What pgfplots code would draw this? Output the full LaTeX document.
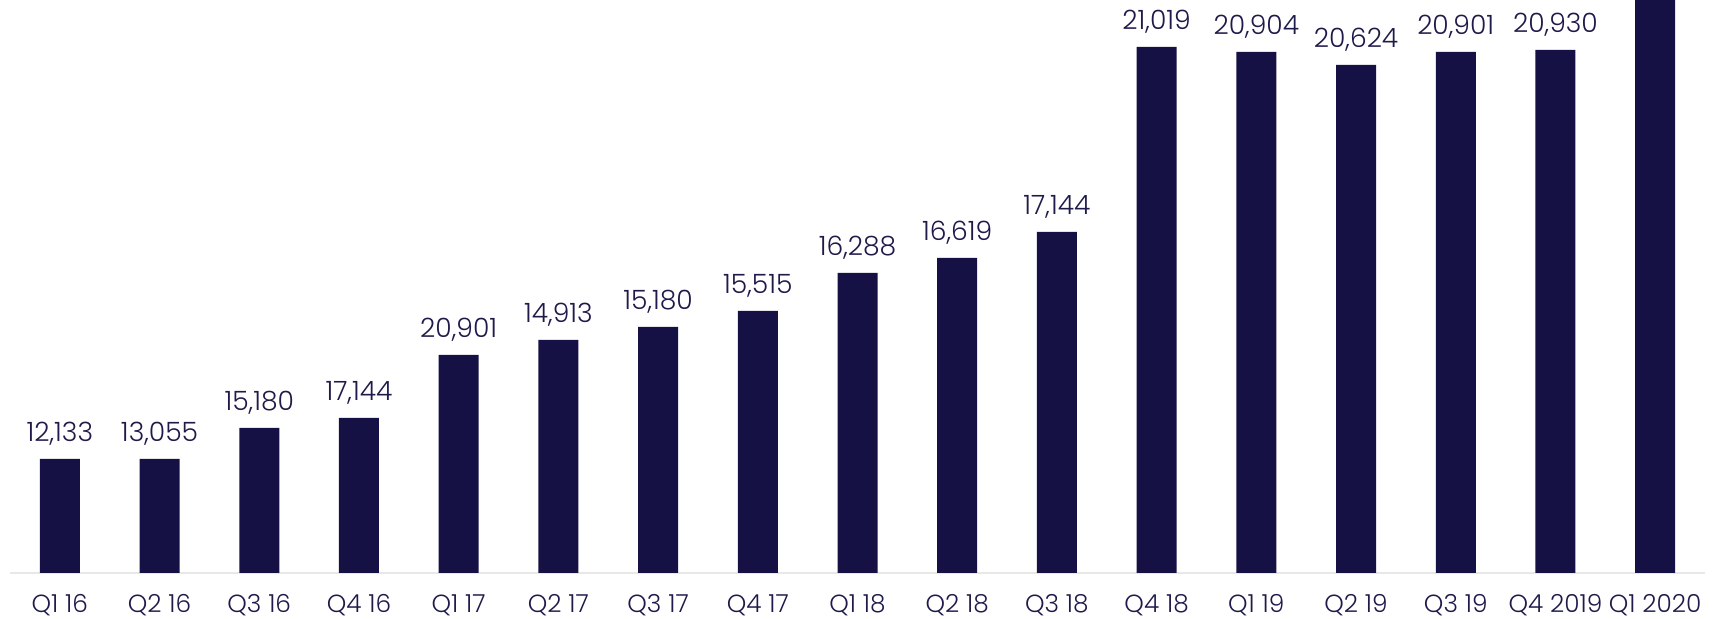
\documentclass[border=0pt]{standalone}
\usepackage{pgfplots}
\usepackage{pgfplotstable}
\pgfplotsset{compat=1.18}
\usepackage{fontspec}
\setmainfont{Poppins}[UprightFont=* Light]
\definecolor{barc}{HTML}{161145}
\definecolor{txtc}{HTML}{1E1B4B}
\pgfplotstableread{
x h lab
0 114 12,133
1 114 13,055
2 145 15,180
3 155 17,144
4 218 20,901
5 233 14,913
6 246 15,180
7 262 15,515
8 300 16,288
9 315 16,619
10 341 17,144
11 526 21,019
12 521 20,904
13 508 20,624
14 521 20,901
15 523 20,930
16 620 {}
}\datatab
\begin{document}
\begin{tikzpicture}
\begin{axis}[
  at={(0,0)}, anchor=south west,
  scale only axis, width=847.5pt, height=286.5pt,
  xmin=-0.5, xmax=16.5, ymin=0, ymax=573,
  ybar, bar width=20pt,
  axis y line=none,
  axis x line*=bottom,
  x axis line style={color=black!9, line width=0.8pt},
  xtick=data, major tick length=0pt,
  xticklabels={Q1 16,Q2 16,Q3 16,Q4 16,Q1 17,Q2 17,Q3 17,Q4 17,Q1 18,Q2 18,Q3 18,Q4 18,Q1 19,Q2 19,Q3 19,Q4 2019,Q1 2020},
  xticklabel style={font=\fontsize{12.4}{15}\selectfont, text=txtc, anchor=base, yshift=-20pt, inner sep=0pt},
  nodes near coords,
  point meta=explicit symbolic,
  every node near coord/.append style={font=\fontsize{13.3}{15}\selectfont, text=txtc, anchor=base, yshift=8.5pt, inner sep=0pt},
  clip=true,
]
\addplot[fill=barc, draw=none] table[x=x, y=h, meta=lab] {\datatab};
\end{axis}
\pgfresetboundingbox
\path (-5pt,-23pt) rectangle (853.5pt,286.5pt);
\end{tikzpicture}
\end{document}
